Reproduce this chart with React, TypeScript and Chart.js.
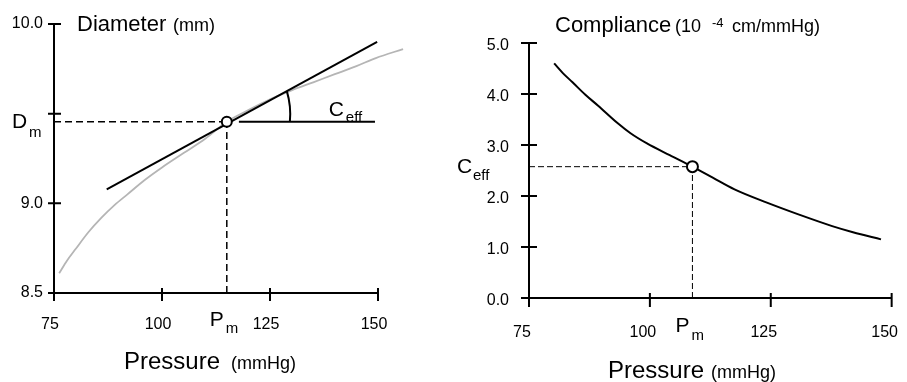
import React, { useEffect, useRef } from 'react';
import { Chart, registerables } from 'chart.js';
Chart.register(...registerables);

const FONT = '"Liberation Sans", Arial, Helvetica, sans-serif';

// ---------- Left panel: Diameter vs Pressure ----------
const diamPressure = [76.2, 78, 80, 83, 86, 89, 92, 96, 100, 105, 110, 115, 120, 125, 130, 135, 140, 145, 149.5, 155.8];
const diamValues = [8.61, 8.68, 8.745, 8.84, 8.92, 8.99, 9.05, 9.13, 9.2, 9.28, 9.36, 9.455, 9.52, 9.58, 9.63, 9.675, 9.72, 9.765, 9.81, 9.86];
const tangentPressure = [87.2, 149.8];
const tangentDiameter = [9.078, 9.9];
const diamPm = 115;
const diamDm = 9.455;
const ceffLinePressure = [117.8, 149.3];
const ceffArcPressure = [128.9, 129.6];
const diamXTicks = [75, 100, 125, 150];
const diamXLabels = ['75', '100', '125', '150'];
const diamYTicks = [8.5, 9.0, 9.5, 10.0];
const diamYLabels = ['8.5', '9.0', '', '10.0'];

// ---------- Right panel: Compliance vs Pressure ----------
const compPressure = [80.2, 82, 84, 86.6, 89.3, 93.3, 96, 99.4, 104.1, 108.8, 113, 117.5, 124.2, 131, 137.7, 142, 147.8];
const compValues = [4.6, 4.41, 4.23, 3.99, 3.77, 3.43, 3.23, 3.03, 2.8, 2.575, 2.36, 2.13, 1.87, 1.63, 1.41, 1.29, 1.15];
const compPm = 108.8;
const compCeff = 2.575;
const compXTicks = [75, 100, 125, 150];
const compXLabels = ['75', '100', '125', '150'];
const compYTicks = [0, 1, 2, 3, 4, 5];
const compYLabels = ['0.0', '1.0', '2.0', '3.0', '4.0', '5.0'];

function txt(ctx: CanvasRenderingContext2D, s: string, x: number, y: number, size: number) {
  ctx.font = `${size}px ${FONT}`;
  ctx.fillStyle = '#000';
  ctx.textAlign = 'left';
  ctx.textBaseline = 'alphabetic';
  ctx.fillText(s, x, y);
}

function axesPlugin(xTicks: number[], yTicks: number[], yOut: number, yIn: number, xIn: number, xOut: number, drawText: (chart: any) => void) {
  return {
    id: 'customAxes',
    beforeDatasetsDraw(chart: any) {
      const { ctx, chartArea: a } = chart;
      const xs = chart.scales.x;
      const ys = chart.scales.y;
      ctx.save();
      ctx.strokeStyle = '#000';
      ctx.lineWidth = 2;
      ctx.lineCap = 'butt';
      ctx.beginPath();
      ctx.moveTo(a.left, a.top);
      ctx.lineTo(a.left, a.bottom);
      ctx.moveTo(a.left - 1, a.bottom);
      ctx.lineTo(a.right, a.bottom);
      for (const v of yTicks) {
        const py = ys.getPixelForValue(v);
        ctx.moveTo(a.left - yOut, py);
        ctx.lineTo(a.left + yIn, py);
      }
      for (const v of xTicks) {
        const px = xs.getPixelForValue(v);
        ctx.moveTo(px, a.bottom - xIn);
        ctx.lineTo(px, a.bottom + xOut);
      }
      ctx.stroke();
      ctx.restore();
    },
    afterDraw(chart: any) {
      chart.ctx.save();
      drawText(chart);
      chart.ctx.restore();
    },
  };
}

function scaleOpts(min: number, max: number, ticks: number[], labels: string[], size: { w?: number; h?: number }, padding: number, labelOffset: number) {
  return {
    type: 'linear',
    min,
    max,
    grid: { display: false, drawTicks: false },
    border: { display: false },
    afterBuildTicks: (s: any) => {
      s.ticks = ticks.map((v) => ({ value: v }));
    },
    afterFit: (s: any) => {
      if (size.w !== undefined) s.width = size.w;
      if (size.h !== undefined) s.height = size.h;
    },
    ticks: {
      autoSkip: false,
      maxRotation: 0,
      minRotation: 0,
      padding,
      labelOffset,
      color: '#000',
      font: { family: FONT, size: 16 },
      callback: (_v: any, i: number) => labels[i],
    },
  };
}

function leftConfig(): any {
  const tangentAt = (p: number) =>
    tangentDiameter[0] + ((tangentDiameter[1] - tangentDiameter[0]) * (p - tangentPressure[0])) / (tangentPressure[1] - tangentPressure[0]);
  const drawText = (chart: any) => {
    const { ctx, chartArea: a } = chart;
    const xs = chart.scales.x;
    const ys = chart.scales.y;
    const xPm = xs.getPixelForValue(diamPm);
    const yDm = ys.getPixelForValue(diamDm);
    // arc for C_eff angle
    const tx = xs.getPixelForValue(ceffArcPressure[0]);
    const ty = ys.getPixelForValue(tangentAt(ceffArcPressure[0]));
    const bx = xs.getPixelForValue(ceffArcPressure[1]);
    ctx.strokeStyle = '#000';
    ctx.lineWidth = 2;
    ctx.beginPath();
    ctx.moveTo(tx, ty);
    ctx.quadraticCurveTo(bx + 1.5, (ty + yDm) / 2, bx, yDm);
    ctx.stroke();

    txt(ctx, 'Diameter', a.left + 23, a.top + 7, 22);
    txt(ctx, '(mm)', a.left + 119, a.top + 7, 18);
    txt(ctx, 'D', a.left - 42, yDm + 6, 21);
    txt(ctx, 'm', a.left - 25, yDm + 15, 15);
    txt(ctx, 'C', xPm + 102, yDm - 6, 21);
    txt(ctx, 'eff', xPm + 119, yDm, 15);
    txt(ctx, 'P', xPm - 17, a.bottom + 33, 21);
    txt(ctx, 'm', xPm - 1, a.bottom + 40, 15);
    txt(ctx, 'Pressure', a.left + 70, a.bottom + 76, 24);
    txt(ctx, '(mmHg)', a.left + 177, a.bottom + 76, 18);
  };
  return {
    type: 'scatter',
    data: {
      datasets: [
        {
          data: [{ x: diamPm, y: diamDm }],
          pointRadius: 5,
          pointBorderWidth: 2,
          pointBorderColor: '#000',
          pointBackgroundColor: '#fff',
          showLine: false,
          order: 0,
          clip: false,
        },
        {
          data: diamPressure.map((p, i) => ({ x: p, y: diamValues[i] })),
          showLine: true,
          borderColor: '#b5b5b5',
          borderWidth: 1.8,
          pointRadius: 0,
          cubicInterpolationMode: 'monotone',
          order: 3,
          clip: false,
        },
        {
          data: tangentPressure.map((p, i) => ({ x: p, y: tangentDiameter[i] })),
          showLine: true,
          borderColor: '#000',
          borderWidth: 2,
          pointRadius: 0,
          order: 2,
          clip: false,
        },
        {
          data: ceffLinePressure.map((p) => ({ x: p, y: diamDm })),
          showLine: true,
          borderColor: '#000',
          borderWidth: 2,
          pointRadius: 0,
          order: 2,
          clip: false,
        },
        {
          data: [{ x: 75, y: diamDm }, { x: diamPm, y: diamDm }],
          showLine: true,
          borderColor: '#000',
          borderWidth: 1.5,
          borderDash: [7, 4],
          pointRadius: 0,
          order: 4,
          clip: false,
        },
        {
          data: [{ x: diamPm, y: 8.5 }, { x: diamPm, y: diamDm }],
          showLine: true,
          borderColor: '#000',
          borderWidth: 1.5,
          borderDash: [7, 4],
          pointRadius: 0,
          order: 4,
          clip: false,
        },
      ],
    },
    options: {
      responsive: false,
      maintainAspectRatio: false,
      animation: false,
      events: [],
      layout: { padding: { top: 24, right: 62, left: 0, bottom: 0 } },
      plugins: { legend: { display: false }, tooltip: { enabled: false }, title: { display: false } },
      scales: {
        x: scaleOpts(75, 150, diamXTicks, diamXLabels, { h: 89 }, 22, -4),
        y: scaleOpts(8.5, 10, diamYTicks, diamYLabels, { w: 54 }, 11, 0),
      },
    },
    plugins: [axesPlugin(diamXTicks, diamYTicks, 6, 7, 5, 8, drawText)],
  };
}

function rightConfig(): any {
  const drawText = (chart: any) => {
    const { ctx, chartArea: a } = chart;
    const xs = chart.scales.x;
    const ys = chart.scales.y;
    const xPm = xs.getPixelForValue(compPm);
    const yC = ys.getPixelForValue(compCeff);
    txt(ctx, 'Compliance', a.left + 26, a.top - 11, 22);
    txt(ctx, '(10', a.left + 146, a.top - 11, 18);
    txt(ctx, '-4', a.left + 183, a.top - 16, 13);
    txt(ctx, 'cm/mmHg)', a.left + 203, a.top - 11, 18);
    txt(ctx, 'C', a.left - 72, yC + 6, 21);
    txt(ctx, 'eff', a.left - 56, yC + 13, 15);
    txt(ctx, 'P', xPm - 17, a.bottom + 34, 21);
    txt(ctx, 'm', xPm - 1, a.bottom + 42, 15);
    txt(ctx, 'Pressure', a.left + 79, a.bottom + 80, 24);
    txt(ctx, '(mmHg)', a.left + 182, a.bottom + 80, 18);
  };
  return {
    type: 'scatter',
    data: {
      datasets: [
        {
          data: [{ x: compPm, y: compCeff }],
          pointRadius: 5.5,
          pointBorderWidth: 2,
          pointBorderColor: '#000',
          pointBackgroundColor: '#fff',
          showLine: false,
          order: 0,
          clip: false,
        },
        {
          data: compPressure.map((p, i) => ({ x: p, y: compValues[i] })),
          showLine: true,
          borderColor: '#000',
          borderWidth: 2,
          pointRadius: 0,
          cubicInterpolationMode: 'monotone',
          order: 2,
          clip: false,
        },
        {
          data: [{ x: 75, y: compCeff }, { x: compPm, y: compCeff }],
          showLine: true,
          borderColor: '#000',
          borderWidth: 1,
          borderDash: [6, 3],
          pointRadius: 0,
          order: 3,
          clip: false,
        },
        {
          data: [{ x: compPm, y: 0 }, { x: compPm, y: compCeff }],
          showLine: true,
          borderColor: '#000',
          borderWidth: 1,
          borderDash: [6, 3],
          pointRadius: 0,
          order: 3,
          clip: false,
        },
      ],
    },
    options: {
      responsive: false,
      maintainAspectRatio: false,
      animation: false,
      events: [],
      layout: { padding: { top: 43, right: 29, left: 0, bottom: 0 } },
      plugins: { legend: { display: false }, tooltip: { enabled: false }, title: { display: false } },
      scales: {
        x: scaleOpts(75, 150, compXTicks, compXLabels, { h: 84 }, 25, -7),
        y: scaleOpts(0, 5, compYTicks, compYLabels, { w: 89 }, 20, 3),
      },
    },
    plugins: [axesPlugin(compXTicks, compYTicks, 8, 8, 5, 9, drawText)],
  };
}

export default function App() {
  const leftRef = useRef<HTMLCanvasElement>(null);
  const rightRef = useRef<HTMLCanvasElement>(null);
  useEffect(() => {
    const c1 = new Chart(leftRef.current as HTMLCanvasElement, leftConfig());
    const c2 = new Chart(rightRef.current as HTMLCanvasElement, rightConfig());
    return () => {
      c1.destroy();
      c2.destroy();
    };
  }, []);
  return (
    <div style={{ position: 'absolute', left: 0, top: 0, width: 907, height: 382, overflow: 'hidden', background: '#fff' }}>
      <canvas ref={leftRef} width={440} height={382} style={{ position: 'absolute', left: 0, top: 0 }} />
      <canvas ref={rightRef} width={490} height={382} style={{ position: 'absolute', left: 440, top: 0 }} />
    </div>
  );
}
